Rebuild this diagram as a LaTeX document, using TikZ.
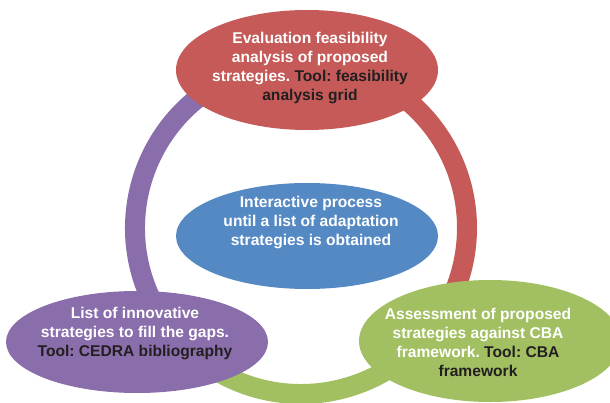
\documentclass[tikz,border=0pt]{standalone}
\usepackage{fontspec}
\setmainfont{Liberation Sans}
\usepackage{xcolor}
\usetikzlibrary{shapes.geometric}

\definecolor{evalred}{HTML}{C55A58}
\definecolor{listpurple}{HTML}{8A6DAB}
\definecolor{assessgreen}{HTML}{A2C062}
\definecolor{loopblue}{HTML}{5589C4}
\definecolor{tooldark}{HTML}{231F20}

\newcommand{\tooltxt}[1]{\textcolor{tooldark}{#1}}

\tikzset{
  bubble/.style={ellipse, draw=none, inner sep=0pt},
  caption/.style={align=center, text=white, inner sep=0pt,
    font=\fontsize{15.6}{19}\selectfont\bfseries\frenchspacing},
  ringarc/.style={line width=20pt},
}

\begin{document}
\begin{tikzpicture}[x=1pt, y=-1pt]
\clip (0,0) rectangle (610,403);

% the loop
\coordinate (hub) at (301,228);
\draw [ringarc, evalred] ([shift={(-90:166)}]hub) arc[start angle=-90, end angle=30, radius=166];
\draw [ringarc, assessgreen] ([shift={(30:166)}]hub) arc[start angle=30, end angle=150, radius=166];
\draw [ringarc, listpurple] ([shift={(150:166)}]hub) arc[start angle=150, end angle=270, radius=166];

% the bubbles
\node [bubble, fill=evalred, minimum width=262pt, minimum height=120pt] (eval) at (307,70) {};
\node [bubble, fill=listpurple, minimum width=262pt, minimum height=102pt] (list) at (137,342) {};
\node [bubble, fill=assessgreen, minimum width=262pt, minimum height=122pt] (assess) at (490,341) {};
\node [bubble, fill=loopblue, minimum width=262pt, minimum height=106pt] (loop) at (307,236) {};

% the texts
\node [caption] (evaltext) at (310,68) {Evaluation feasibility\\analysis of proposed\\strategies. \tooltxt{Tool: feasibility}\\\tooltxt{analysis grid}};
\node [caption] (listtext) at (135,333) {List of innovative\\strategies to fill the gaps.\\\tooltxt{Tool: CEDRA bibliography}};
\node [caption] (assesstext) at (478,342) {Assessment of proposed\\strategies against CBA\\framework. \tooltxt{Tool: CBA}\\\tooltxt{framework}};
\node [caption] (looptext) at (311,223) {Interactive process\\until a list of adaptation\\strategies is obtained};
\end{tikzpicture}
\end{document}
